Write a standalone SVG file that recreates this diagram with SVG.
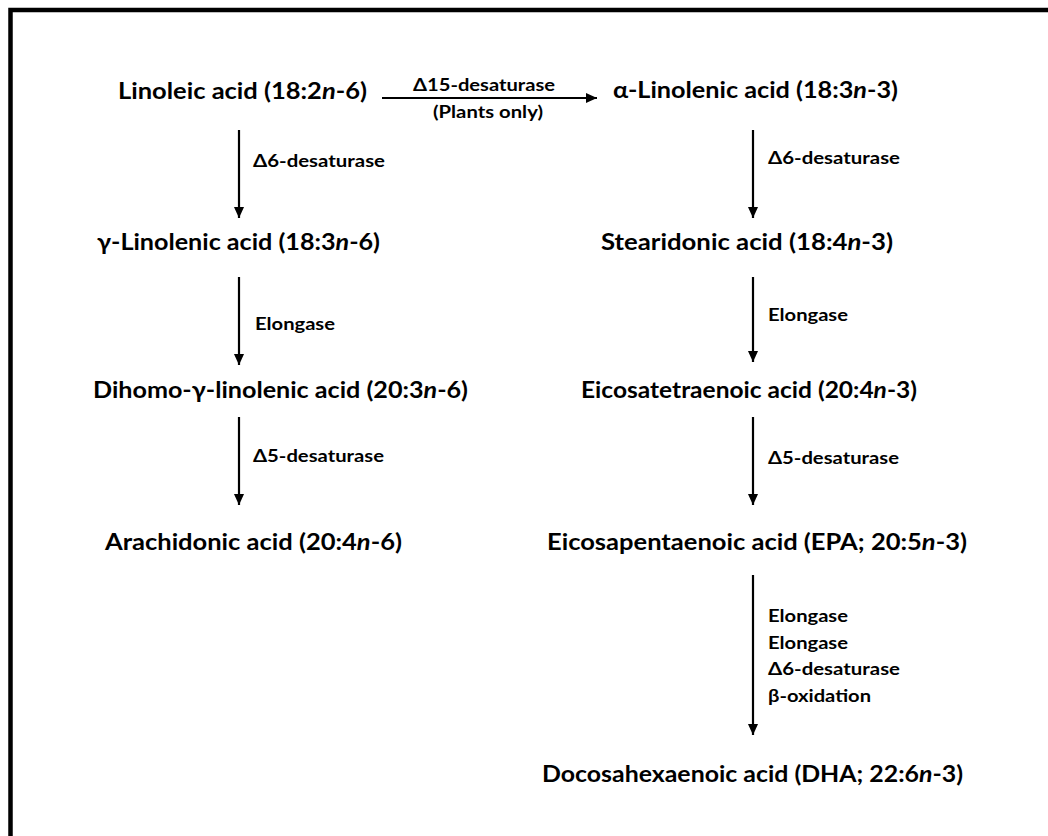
<svg xmlns="http://www.w3.org/2000/svg" width="1048" height="836" viewBox="0 0 1048 836">
<defs>
<style>
.main{font-family:Lato,"Open Sans","Liberation Sans",sans-serif;font-weight:bold;font-size:23.5px;fill:#000}
.lab{font-family:Lato,"Open Sans","Liberation Sans",sans-serif;font-weight:bold;font-size:16.5px;fill:#000}
.it{font-style:italic}
.conn line{stroke:#000;stroke-width:2.2}
</style>
<marker id="ah" markerWidth="11" markerHeight="12" refX="12" refY="5.5" orient="auto" markerUnits="userSpaceOnUse" viewBox="0 0 12 11">
<path d="M0,0 L12,5.5 L0,11 z" fill="#000"/>
</marker>
</defs>
<rect x="0" y="0" width="1048" height="836" fill="#fff"/>
<rect x="10.5" y="10" width="1060" height="860" fill="none" stroke="#000" stroke-width="4.5"/>
<g class="conn">
<line x1="382" y1="98" x2="597" y2="98" marker-end="url(#ah)"/>
<line x1="239" y1="130" x2="239" y2="218" marker-end="url(#ah)"/>
<line x1="239" y1="277" x2="239" y2="365" marker-end="url(#ah)"/>
<line x1="239" y1="417" x2="239" y2="505" marker-end="url(#ah)"/>
<line x1="753" y1="130" x2="753" y2="218" marker-end="url(#ah)"/>
<line x1="753" y1="277" x2="753" y2="362" marker-end="url(#ah)"/>
<line x1="753" y1="417" x2="753" y2="505" marker-end="url(#ah)"/>
<line x1="753" y1="575" x2="753" y2="735" marker-end="url(#ah)"/>
</g>
<g id="labels">
<text class="lab" x="413" y="91" textLength="142" lengthAdjust="spacingAndGlyphs">Δ15-desaturase</text>
<text class="lab" x="433" y="118" textLength="110" lengthAdjust="spacingAndGlyphs">(Plants only)</text>
<text class="lab" x="253" y="167" textLength="132" lengthAdjust="spacingAndGlyphs">Δ6-desaturase</text>
<text class="lab" x="255" y="330" textLength="80" lengthAdjust="spacingAndGlyphs">Elongase</text>
<text class="lab" x="253" y="462" textLength="131" lengthAdjust="spacingAndGlyphs">Δ5-desaturase</text>
<text class="lab" x="768" y="164" textLength="132" lengthAdjust="spacingAndGlyphs">Δ6-desaturase</text>
<text class="lab" x="768" y="321" textLength="80" lengthAdjust="spacingAndGlyphs">Elongase</text>
<text class="lab" x="768" y="464" textLength="131" lengthAdjust="spacingAndGlyphs">Δ5-desaturase</text>
<text class="lab" x="768" y="622" textLength="80" lengthAdjust="spacingAndGlyphs">Elongase</text>
<text class="lab" x="768" y="649" textLength="80" lengthAdjust="spacingAndGlyphs">Elongase</text>
<text class="lab" x="768" y="675" textLength="132" lengthAdjust="spacingAndGlyphs">Δ6-desaturase</text>
<text class="lab" x="768" y="702" textLength="103" lengthAdjust="spacingAndGlyphs">β-oxidation</text>
</g>
<g id="n-linoleic"><text class="main" x="118" y="99" textLength="249" lengthAdjust="spacingAndGlyphs">Linoleic acid (18:2<tspan class="it">n</tspan>-6)</text></g>
<g id="n-alpha"><text class="main" x="613" y="98" textLength="285" lengthAdjust="spacingAndGlyphs">α-Linolenic acid (18:3<tspan class="it">n</tspan>-3)</text></g>
<g id="n-gamma"><text class="main" x="97" y="250" textLength="283" lengthAdjust="spacingAndGlyphs">γ-Linolenic acid (18:3<tspan class="it">n</tspan>-6)</text></g>
<g id="n-stearidonic"><text class="main" x="601" y="250" textLength="292" lengthAdjust="spacingAndGlyphs">Stearidonic acid (18:4<tspan class="it">n</tspan>-3)</text></g>
<g id="n-dihomo"><text class="main" x="93" y="398" textLength="375" lengthAdjust="spacingAndGlyphs">Dihomo-γ-linolenic acid (20:3<tspan class="it">n</tspan>-6)</text></g>
<g id="n-eicosatetraenoic"><text class="main" x="581" y="398" textLength="336" lengthAdjust="spacingAndGlyphs">Eicosatetraenoic acid (20:4<tspan class="it">n</tspan>-3)</text></g>
<g id="n-arachidonic"><text class="main" x="105" y="550" textLength="297" lengthAdjust="spacingAndGlyphs">Arachidonic acid (20:4<tspan class="it">n</tspan>-6)</text></g>
<g id="n-epa"><text class="main" x="547" y="550" textLength="420" lengthAdjust="spacingAndGlyphs">Eicosapentaenoic acid (EPA; 20:5<tspan class="it">n</tspan>-3)</text></g>
<g id="n-dha"><text class="main" x="542" y="782" textLength="421" lengthAdjust="spacingAndGlyphs">Docosahexaenoic acid (DHA; 22:6<tspan class="it">n</tspan>-3)</text></g>
</svg>
